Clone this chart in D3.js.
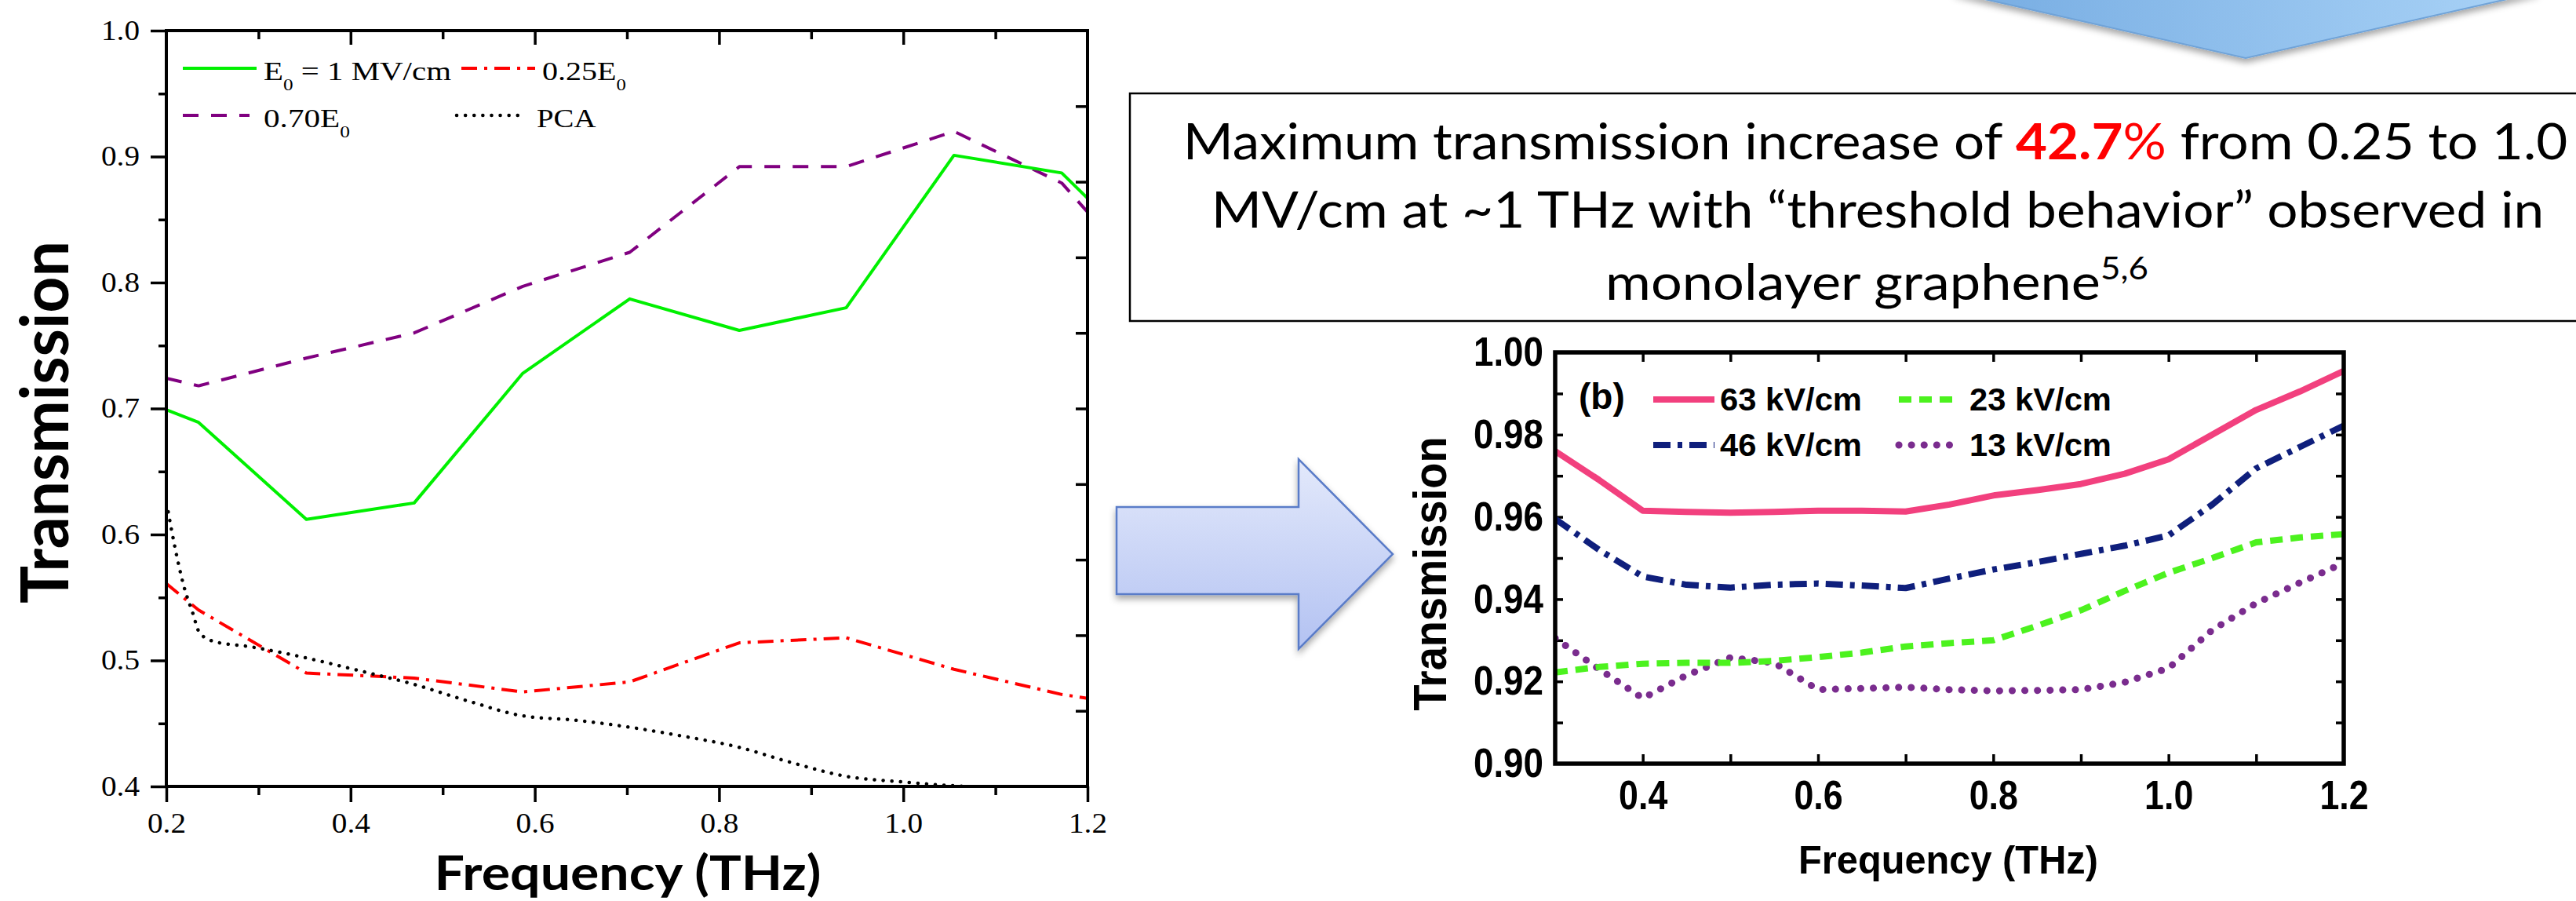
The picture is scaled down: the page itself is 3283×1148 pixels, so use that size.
<!DOCTYPE html>
<html>
<head>
<meta charset="utf-8">
<title>THz transmission slide</title>
<script src="https://cdn.jsdelivr.net/npm/d3@7"></script>
<style>
body { margin: 0; background: #fff; }
svg { display: block; }
text { white-space: pre; }
</style>
</head>
<body>
<script>
var W = 3283, H = 1148;

// left panel: transmission vs frequency for three field strengths + PCA
var lFreq = [0.2, 0.235, 0.352, 0.469, 0.587, 0.703, 0.822, 0.938, 1.055, 1.172, 1.2];
var lFull = [0.699, 0.689, 0.612, 0.625, 0.728, 0.787, 0.762, 0.780, 0.901, 0.887, 0.867];
var l070 = [0.724, 0.718, 0.740, 0.760, 0.797, 0.824, 0.892, 0.892, 0.920, 0.879, 0.856];
var l025 = [0.561, 0.540, 0.490, 0.486, 0.475, 0.483, 0.514, 0.518, 0.493, 0.473, 0.470];
var pcaFreq = [0.202, 0.209, 0.219, 0.2285, 0.236, 0.252, 0.29, 0.352, 0.406, 0.469, 0.529,
               0.587, 0.645, 0.703, 0.76, 0.822, 0.876, 0.938, 1.0, 1.055, 1.07];
var pcaT = [0.618, 0.591, 0.559, 0.538, 0.522, 0.515, 0.511, 0.502, 0.4925, 0.481, 0.4675,
            0.456, 0.4525, 0.447, 0.440, 0.431, 0.4195, 0.408, 0.4035, 0.4005, 0.4];
var lXMajor = [0.2, 0.4, 0.6, 0.8, 1.0, 1.2];
var lXMinor = [0.3, 0.5, 0.7, 0.9, 1.1];
var lYMajor = [0.4, 0.5, 0.6, 0.7, 0.8, 0.9, 1.0];
var lYMinor = [0.45, 0.55, 0.65, 0.75, 0.85, 0.95];
var lYRight = [0.1, 0.2, 0.3, 0.4, 0.5, 0.6, 0.7, 0.8, 0.9];

// right panel (b): four field strengths
var bFreq = [0.3, 0.35, 0.4, 0.45, 0.5, 0.55, 0.6, 0.65, 0.7, 0.75, 0.8, 0.85, 0.9, 0.95, 1.0, 1.05, 1.1, 1.15, 1.2];
var b63 = [0.976, 0.969, 0.9615, 0.9612, 0.961, 0.9612, 0.9615, 0.9615, 0.9613, 0.963, 0.9652, 0.9665, 0.968, 0.9705, 0.974, 0.980, 0.986, 0.9905, 0.9955];
var b46 = [0.9595, 0.952, 0.9455, 0.9435, 0.9428, 0.9435, 0.9438, 0.9433, 0.9427, 0.945, 0.9472, 0.949, 0.951, 0.953, 0.9555, 0.963, 0.9718, 0.977, 0.9822];
var b23 = [0.9222, 0.9235, 0.9243, 0.9245, 0.9245, 0.925, 0.9259, 0.927, 0.9285, 0.9293, 0.930, 0.9335, 0.9373, 0.942, 0.9464, 0.950, 0.9538, 0.955, 0.9558];
var b13 = [0.9305, 0.923, 0.9159, 0.9215, 0.9258, 0.9245, 0.918, 0.9183, 0.9186, 0.918, 0.9177, 0.9178, 0.918, 0.9198, 0.9232, 0.9325, 0.939, 0.944, 0.9488];
var bXTicks = [0.4, 0.5, 0.6, 0.7, 0.8, 0.9, 1.0, 1.1];
var bXLabels = [0.4, 0.6, 0.8, 1.0, 1.2];
var bYTicks = [0.91, 0.92, 0.93, 0.94, 0.95, 0.96, 0.97, 0.98, 0.99];
var bYLabels = [0.90, 0.92, 0.94, 0.96, 0.98, 1.00];

var svg = d3.select("body").append("svg")
    .attr("width", W)
    .attr("height", H);

var defs = svg.append("defs");

var gTop = defs.append("linearGradient").attr("id", "gTop")
    .attr("gradientUnits", "userSpaceOnUse")
    .attr("x1", 2490).attr("x2", 3235).attr("y1", 0).attr("y2", 0);
gTop.append("stop").attr("offset", 0).attr("stop-color", "#76ACE2");
gTop.append("stop").attr("offset", 1).attr("stop-color", "#AAD3F7");

var gMid = defs.append("linearGradient").attr("id", "gMid")
    .attr("x1", 0).attr("x2", 0).attr("y1", 0).attr("y2", 1);
gMid.append("stop").attr("offset", 0).attr("stop-color", "#E3E9FB");
gMid.append("stop").attr("offset", 1).attr("stop-color", "#B3C2F2");

var shadow = defs.append("filter").attr("id", "shadow")
    .attr("x", "-10%").attr("y", "-10%").attr("width", "120%").attr("height", "140%");
shadow.append("feDropShadow").attr("dx", 0).attr("dy", 5).attr("stdDeviation", 4)
    .attr("flood-color", "#000").attr("flood-opacity", 0.35);

defs.append("clipPath").attr("id", "clipL").append("rect")
    .attr("x", 212).attr("y", 39).attr("width", 1174).attr("height", 963);
defs.append("clipPath").attr("id", "clipB").append("rect")
    .attr("x", 1982).attr("y", 449).attr("width", 1005).attr("height", 524);

// squeeze / stretch a text horizontally so it covers w pixels
function place(t, x, y, w, rot) {
    var bw = t.node().getBBox().width;
    t.attr("transform", "translate(" + x + "," + y + ")" + (rot ? " rotate(" + rot + ")" : "") +
        " scale(" + (w / bw) + ",1)");
}

function cleanAxis(g, family, size, weight, sx) {
    g.select(".domain").remove();
    g.selectAll(".tick line").attr("stroke", "#000").attr("stroke-width", 3.5);
    g.selectAll("text")
        .attr("font-family", family)
        .attr("font-size", size)
        .attr("font-weight", weight)
        .attr("fill", "#000")
        .each(function() {
            var w = this.getComputedTextLength();
            if (w > 0) d3.select(this).attr("textLength", w * sx).attr("lengthAdjust", "spacingAndGlyphs");
        });
}

// ---------- arrows ----------
svg.append("polygon")
    .attr("points", [[2490, -10], [2862, 74], [3235, -10]].join(" "))
    .attr("fill", "url(#gTop)")
    .attr("stroke", "#6FA3D8")
    .attr("stroke-width", 2)
    .attr("filter", "url(#shadow)");

svg.append("polygon")
    .attr("points", [[1423, 646], [1655, 646], [1655, 585], [1775, 706], [1655, 827], [1655, 757], [1423, 757]].join(" "))
    .attr("fill", "url(#gMid)")
    .attr("stroke", "#5A7CC8")
    .attr("stroke-width", 2.5)
    .attr("filter", "url(#shadow)");

// ---------- left panel ----------
var lx = d3.scaleLinear().domain([0.2, 1.2]).range([212, 1386]);
var ly = d3.scaleLinear().domain([0.4, 1.0]).range([1002, 39]);
var lyR = d3.scaleLinear().domain([0, 1]).range([1002, 39]);
var serif = "'Liberation Serif', 'Times New Roman', serif";
var left = svg.append("g");

left.append("g").attr("transform", "translate(0,1002)")
    .call(d3.axisBottom(lx).tickValues(lXMajor).tickSize(20).tickPadding(14).tickFormat(d3.format(".1f")))
    .call(cleanAxis, serif, 35, 400, 1.12);
left.append("g").attr("transform", "translate(0,1002)")
    .call(d3.axisBottom(lx).tickValues(lXMinor).tickSize(11).tickFormat(""))
    .call(cleanAxis, serif, 35, 400, 1);
left.append("g").attr("transform", "translate(0,39)")
    .call(d3.axisTop(lx).tickValues([0.4, 0.6, 0.8, 1.0]).tickSize(-18).tickFormat(""))
    .call(cleanAxis, serif, 35, 400, 1);
left.append("g").attr("transform", "translate(0,39)")
    .call(d3.axisTop(lx).tickValues(lXMinor).tickSize(-11).tickFormat(""))
    .call(cleanAxis, serif, 35, 400, 1);
left.append("g").attr("transform", "translate(212,0)")
    .call(d3.axisLeft(ly).tickValues(lYMajor).tickSize(20).tickPadding(14).tickFormat(d3.format(".1f")))
    .call(cleanAxis, serif, 35, 400, 1.12);
left.append("g").attr("transform", "translate(212,0)")
    .call(d3.axisLeft(ly).tickValues(lYMinor).tickSize(10).tickFormat(""))
    .call(cleanAxis, serif, 35, 400, 1);
left.append("g").attr("transform", "translate(1386,0)")
    .call(d3.axisRight(lyR).tickValues(lYRight).tickSize(-15).tickFormat(""))
    .call(cleanAxis, serif, 35, 400, 1);

var lLine = d3.line().x(function(d) { return lx(d[0]); }).y(function(d) { return ly(d[1]); });
var lSeries = [
    { x: lFreq, y: l070, color: "#800080", dash: "20,16", cap: "butt", w: 4 },
    { x: lFreq, y: l025, color: "#FF0000", dash: "20,9,4,9", cap: "butt", w: 4 },
    { x: pcaFreq, y: pcaT, color: "#000000", dash: "0.1,11", cap: "round", w: 4.5 },
    { x: lFreq, y: lFull, color: "#00F000", dash: null, cap: "butt", w: 4 }
];
var lPlot = left.append("g").attr("clip-path", "url(#clipL)");
lSeries.forEach(function(s) {
    var pts = s.x.map(function(v, i) { return [v, s.y[i]]; });
    lPlot.append("path")
        .attr("d", s.x === pcaFreq ? lLine.curve(d3.curveMonotoneX)(pts) : lLine.curve(d3.curveLinear)(pts))
        .attr("fill", "none")
        .attr("stroke", s.color)
        .attr("stroke-width", s.w)
        .attr("stroke-dasharray", s.dash)
        .attr("stroke-linecap", s.cap)
        .attr("stroke-linejoin", "round");
});

left.append("rect")
    .attr("x", 212).attr("y", 39).attr("width", 1174).attr("height", 963)
    .attr("fill", "none").attr("stroke", "#000").attr("stroke-width", 4);

// legend
var lLegend = [
    { x1: 233, x2: 327, y: 87, tx: 336, w: 239, s: lSeries[3], label: ["E", "0", " = 1 MV/cm"] },
    { x1: 588, x2: 682, y: 87, tx: 691, w: 107, s: lSeries[1], label: ["0.25E", "0", ""] },
    { x1: 233, x2: 318, y: 147, tx: 336, w: 110, s: lSeries[0], label: ["0.70E", "0", ""] },
    { x1: 582, x2: 667, y: 147, tx: 684, w: 76, s: lSeries[2], label: ["PCA", "", ""] }
];
lLegend.forEach(function(d) {
    left.append("line")
        .attr("x1", d.x1).attr("x2", d.x2).attr("y1", d.y).attr("y2", d.y)
        .attr("stroke", d.s.color).attr("stroke-width", d.s.w)
        .attr("stroke-dasharray", d.s.dash).attr("stroke-linecap", d.s.cap);
    var t = left.append("text")
        .attr("font-family", serif).attr("font-size", 34).attr("fill", "#000");
    t.append("tspan").text(d.label[0]);
    if (d.label[1]) {
        t.append("tspan").attr("font-size", 21).attr("dy", 13).text(d.label[1]);
        t.append("tspan").attr("dy", -13).text(d.label[2]);
    }
    place(t, d.tx, d.y + 15, d.w);
});

var lYT = left.append("text")
    .attr("font-family", "Lato, 'Open Sans', sans-serif").attr("font-weight", 700)
    .attr("font-size", 84).attr("text-anchor", "middle").text("Transmission");
place(lYT, 87, 538, 462, -90);
var lXT = left.append("text")
    .attr("font-family", "Lato, 'Open Sans', sans-serif").attr("font-weight", 700)
    .attr("font-size", 62).attr("text-anchor", "middle").text("Frequency (THz)");
place(lXT, 800, 1134, 493);

// ---------- text box ----------
var boxFont = "Lato, 'Open Sans', sans-serif";
svg.append("rect")
    .attr("x", 1440).attr("y", 119).attr("width", 1900).attr("height", 290)
    .attr("fill", "none").attr("stroke", "#000").attr("stroke-width", 2.5);

var t1 = svg.append("text").attr("font-family", boxFont).attr("font-size", 64).attr("text-anchor", "middle").attr("fill", "#000");
t1.append("tspan").text("Maximum transmission increase of ");
t1.append("tspan").attr("fill", "#FF0000").attr("font-weight", 700).text("42.7");
t1.append("tspan").attr("fill", "#FF0000").text("%");
t1.append("tspan").text(" from 0.25 to 1.0");
place(t1, 2390, 203, 1765);

var t2 = svg.append("text").attr("font-family", boxFont).attr("font-size", 64).attr("text-anchor", "middle").attr("fill", "#000")
    .text("MV/cm at ~1 THz with \u201cthreshold behavior\u201d observed in");
place(t2, 2393, 290, 1699);

var t3 = svg.append("text").attr("font-family", boxFont).attr("font-size", 64).attr("text-anchor", "middle").attr("fill", "#000");
t3.append("tspan").text("monolayer graphene");
t3.append("tspan").attr("font-size", 40).attr("dy", -26).text("5,6");
place(t3, 2392, 382, 692);

// ---------- right panel (b) ----------
var bx = d3.scaleLinear().domain([0.3, 1.2]).range([1982, 2987]);
var by = d3.scaleLinear().domain([0.9, 1.0]).range([973, 449]);
var sans = "'Liberation Sans', Arial, sans-serif";
var right = svg.append("g");

right.append("g").attr("transform", "translate(0,973)")
    .call(d3.axisBottom(bx).tickValues(bXTicks).tickSize(-12).tickFormat(""))
    .call(cleanAxis, sans, 52, 700, 1);
right.append("g").attr("transform", "translate(0,973)")
    .call(d3.axisBottom(bx).tickValues(bXLabels).tickSize(0).tickPadding(21).tickFormat(d3.format(".1f")))
    .call(cleanAxis, sans, 52, 700, 0.86);
right.append("g").attr("transform", "translate(0,449)")
    .call(d3.axisTop(bx).tickValues(bXTicks).tickSize(-12).tickFormat(""))
    .call(cleanAxis, sans, 52, 700, 1);
right.append("g").attr("transform", "translate(1982,0)")
    .call(d3.axisLeft(by).tickValues(bYTicks).tickSize(-10).tickFormat(""))
    .call(cleanAxis, sans, 52, 700, 1);
right.append("g").attr("transform", "translate(1982,0)")
    .call(d3.axisLeft(by).tickValues(bYLabels).tickSize(0).tickPadding(15).tickFormat(d3.format(".2f")))
    .call(cleanAxis, sans, 52, 700, 0.88);
right.append("g").attr("transform", "translate(2987,0)")
    .call(d3.axisRight(by).tickValues(bYTicks).tickSize(-10).tickFormat(""))
    .call(cleanAxis, sans, 52, 700, 1);

var bSeries = [
    { y: b13, color: "#7A2C8E", dash: "0.1,16", cap: "round", w: 9, label: "13 kV/cm", lx: 2420, ly: 567 },
    { y: b23, color: "#4CF21E", dash: "16,10", cap: "butt", w: 8, label: "23 kV/cm", lx: 2420, ly: 509 },
    { y: b46, color: "#0F1F7C", dash: "22,9,6,9", cap: "butt", w: 8, label: "46 kV/cm", lx: 2107, ly: 567 },
    { y: b63, color: "#F2407E", dash: null, cap: "butt", w: 8, label: "63 kV/cm", lx: 2107, ly: 509 }
];
var bLine = d3.line().x(function(d) { return bx(d[0]); }).y(function(d) { return by(d[1]); });
var bPlot = right.append("g").attr("clip-path", "url(#clipB)");
bSeries.forEach(function(s) {
    bPlot.append("path")
        .attr("d", bLine(bFreq.map(function(v, i) { return [v, s.y[i]]; })))
        .attr("fill", "none")
        .attr("stroke", s.color)
        .attr("stroke-width", s.w)
        .attr("stroke-dasharray", s.dash)
        .attr("stroke-linecap", s.cap)
        .attr("stroke-linejoin", "round");
    right.append("line")
        .attr("x1", s.lx).attr("x2", s.lx + 78).attr("y1", s.ly).attr("y2", s.ly)
        .attr("stroke", s.color).attr("stroke-width", s.w)
        .attr("stroke-dasharray", s.dash).attr("stroke-linecap", s.cap);
    var t = right.append("text")
        .attr("font-family", sans).attr("font-weight", 700).attr("font-size", 41)
        .attr("fill", "#000").text(s.label);
    place(t, s.lx + (s.lx < 2300 ? 85 : 90), s.ly + 14, 181);
});

right.append("text")
    .attr("x", 2012).attr("y", 521)
    .attr("font-family", sans).attr("font-weight", 700).attr("font-size", 46)
    .attr("fill", "#000").text("(b)");

right.append("rect")
    .attr("x", 1982).attr("y", 449).attr("width", 1005).attr("height", 524)
    .attr("fill", "none").attr("stroke", "#000").attr("stroke-width", 5.5);

var bYT = right.append("text")
    .attr("font-family", sans).attr("font-weight", 700).attr("font-size", 60)
    .attr("text-anchor", "middle").attr("fill", "#000").text("Transmission");
place(bYT, 1843, 731, 349, -90);
var bXT = right.append("text")
    .attr("font-family", sans).attr("font-weight", 700).attr("font-size", 50)
    .attr("text-anchor", "middle").attr("fill", "#000").text("Frequency (THz)");
place(bXT, 2483, 1113, 382);
</script>
</body>
</html>
